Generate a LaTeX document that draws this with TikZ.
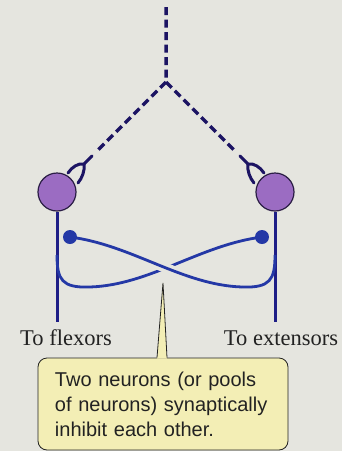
\documentclass[tikz,border=0pt]{standalone}
\usepackage{fontspec}
\setmainfont{Liberation Serif}
\newfontfamily\calloutfont{Liberation Sans}
\definecolor{paper}{HTML}{E5E5DF}
\definecolor{cellpurple}{HTML}{9B6CC2}
\definecolor{celledge}{HTML}{2B1E45}
\definecolor{axonblue}{HTML}{1E1E86}
\definecolor{branchblue}{HTML}{2438A6}
\definecolor{inputnavy}{HTML}{1C1463}
\definecolor{noteyellow}{HTML}{F3EEB5}
\definecolor{inkgray}{HTML}{222222}

\begin{document}
\begin{tikzpicture}[
    x=1pt, y=-1pt,
    neuron/.style={circle, draw=celledge, line width=1.2pt, fill=cellpurple,
                   minimum size=38pt, inner sep=0pt},
    knob/.style={circle, fill=branchblue, minimum size=14pt, inner sep=0pt},
    axon/.style={draw=axonblue, line width=3pt},
    collateral/.style={draw=branchblue, line width=2.8pt},
    inputline/.style={draw=inputnavy, line width=3.5pt,
                      dash pattern=on 8pt off 4.5pt},
    terminal/.style={draw=inputnavy, line width=3pt, line cap=round},
    muscle/.style={font=\fontsize{22.5}{26}\selectfont, text=inkgray,
                   anchor=base, inner sep=0pt},
    callout/.style={draw=inkgray, line width=0.8pt, fill=noteyellow,
                    rounded corners=9pt, text width=216pt, inner xsep=17pt,
                    minimum height=92pt, align=left, text=inkgray,
                    font=\calloutfont\fontsize{20}{25}\selectfont}
  ]
    \fill[paper] (0,0) rectangle (342,451);
    \useasboundingbox (0,0) rectangle (342,451);

    % descending input, split to both sides
    \coordinate (src) at (166,7);
    \coordinate (split) at (166,82);
    \coordinate (lend) at (96,152);
    \coordinate (rend) at (236,152);
    \draw[inputline] (src) -- (split) -- (lend);
    \draw[inputline] (split) -- (rend);

    \coordinate (lknob) at (84,164);
    \coordinate (rknob) at (248,164);
    \draw[terminal] (92,156) -- (lknob) .. controls (78,163) and (72,167) .. (68,173);
    \draw[terminal] (lknob) .. controls (85,171) and (82,178) .. (78,183);
    \draw[terminal] (240,156) -- (rknob) .. controls (254,163) and (260,167) .. (264,173);
    \draw[terminal] (rknob) .. controls (247,171) and (250,178) .. (254,183);

    \node[neuron] (flex) at (57,192) {};
    \node[neuron] (ext) at (275,192) {};

    \coordinate (flexout) at (57,322);
    \coordinate (extout) at (275,322);
    \draw[axon] (flex) -- (flexout);
    \draw[axon] (ext) -- (extout);

    % crossed inhibitory collaterals
    \coordinate (lsyn) at (70,237);
    \coordinate (rsyn) at (262,237);
    \coordinate (flexjoin) at (57,255);
    \coordinate (extjoin) at (275,255);
    \coordinate (flexbend) at (90,287);
    \coordinate (extbend) at (242,287);
    \draw[collateral] (rsyn) .. controls (200,245) and (150,285) .. (flexbend)
      .. controls (62,288) and (57,280) .. (flexjoin);
    \draw[collateral, preaction={draw=paper, line width=10pt}]
      (lsyn) .. controls (132,245) and (182,285) .. (extbend);
    \draw[collateral] (extbend) .. controls (270,288) and (275,280) .. (extjoin);
    \node[knob] (lk) at (lsyn) {};
    \node[knob] (rk) at (rsyn) {};

    \node[muscle] (flexlabel) at (66,345) {To flexors};
    \node[muscle] (extlabel) at (281,345) {To extensors};

    \coordinate (tip) at (163,283);
    \node[callout] (note) at (163,404)
      {Two neurons (or pools\\of neurons) synaptically\\inhibit each other.};
    \fill[noteyellow] ([shift={(-6pt,-1pt)}]note.north) -- (tip)
      -- ([shift={(4pt,-1pt)}]note.north) -- cycle;
    \draw[inkgray, line width=0.8pt] ([xshift=-6pt]note.north) -- (tip)
      -- ([xshift=4pt]note.north);
  \end{tikzpicture}
\end{document}
